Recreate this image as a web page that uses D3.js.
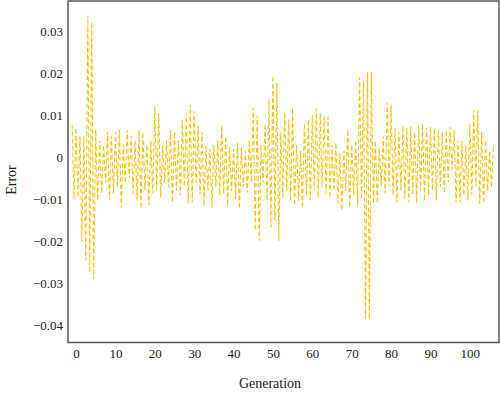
<!DOCTYPE html>
<html>
<head>
<meta charset="utf-8">
<script src="https://cdn.jsdelivr.net/npm/d3@7/dist/d3.min.js"></script>
<style>
  html, body { margin: 0; padding: 0; background: #fff; }
  svg { display: block; }
  text { font-family: "Liberation Serif", "DejaVu Serif", serif; fill: #222; }
</style>
</head>
<body>
<svg id="chart" width="500" height="394"></svg>
<script>
// Generation sampled every half step starting at -1
const genStart = -1;
const genStep = 0.5;
// Error values
const errorValues = [
  0.0077, -0.0100, 0.0070, -0.0096, 0.0050, -0.0200, 0.0050, -0.0246, 0.0338, -0.0275,
  0.0322, -0.0290, 0.0065, -0.0103, 0.0040, -0.0086, 0.0030, -0.0060, 0.0060, -0.0103,
  0.0050, -0.0086, 0.0060, -0.0070, 0.0065, -0.0120, 0.0030, -0.0062, 0.0065, -0.0050,
  0.0050, -0.0086, 0.0040, -0.0103, 0.0065, -0.0122, 0.0060, -0.0080, 0.0030, -0.0114,
  0.0040, -0.0086, 0.0120, -0.0079, 0.0105, -0.0096, 0.0030, -0.0060, 0.0040, -0.0072,
  0.0065, -0.0108, 0.0060, -0.0080, 0.0040, -0.0091, 0.0090, -0.0070, 0.0105, -0.0110,
  0.0125, -0.0108, 0.0110, -0.0060, 0.0075, -0.0090, 0.0060, -0.0115, 0.0030, -0.0080,
  0.0020, -0.0120, 0.0030, -0.0070, 0.0040, -0.0090, 0.0076, -0.0086, 0.0050, -0.0115,
  0.0024, -0.0080, 0.0020, -0.0100, 0.0034, -0.0122, 0.0024, -0.0070, 0.0015, -0.0084,
  0.0040, -0.0060, 0.0117, -0.0175, 0.0100, -0.0199, 0.0030, -0.0060, 0.0080, -0.0103,
  0.0136, -0.0167, 0.0194, -0.0150, 0.0177, -0.0199, 0.0060, -0.0096, 0.0108, -0.0080,
  0.0090, -0.0103, 0.0117, -0.0115, 0.0030, -0.0103, 0.0015, -0.0122, 0.0080, -0.0090,
  0.0090, -0.0103, 0.0100, -0.0080, 0.0117, -0.0096, 0.0105, -0.0070, 0.0096, -0.0086,
  0.0096, -0.0096, 0.0029, -0.0080, 0.0035, -0.0110, 0.0010, -0.0127, 0.0015, -0.0080,
  0.0065, -0.0120, 0.0030, -0.0090, 0.0040, -0.0115, 0.0190, -0.0100, 0.0180, -0.0385,
  0.0203, -0.0385, 0.0203, -0.0110, 0.0040, -0.0110, 0.0020, -0.0070, 0.0050, -0.0086,
  0.0130, -0.0070, 0.0125, -0.0090, 0.0070, -0.0108, 0.0060, -0.0080, 0.0075, -0.0100,
  0.0070, -0.0108, 0.0072, -0.0090, 0.0060, -0.0110, 0.0075, -0.0080, 0.0080, -0.0103,
  0.0070, -0.0090, 0.0072, -0.0080, 0.0070, -0.0103, 0.0065, -0.0070, 0.0060, -0.0086,
  0.0065, -0.0060, 0.0072, -0.0030, 0.0065, -0.0108, 0.0040, -0.0108, 0.0040, -0.0090,
  0.0030, -0.0103, 0.0080, -0.0090, 0.0112, -0.0070, 0.0112, -0.0110, 0.0060, -0.0110,
  0.0040, -0.0080, 0.0015, -0.0072, 0.0025
];
const xTicks = [0, 10, 20, 30, 40, 50, 60, 70, 80, 90, 100];
const yTicks = [-0.04, -0.03, -0.02, -0.01, 0, 0.01, 0.02, 0.03];

const data = errorValues.map((v, i) => ({ g: genStart + i * genStep, e: v }));

const svg = d3.select("#chart");
const mLeft = 68, mRight = 499, mTop = 1, mBottom = 342.5;

const x = d3.scaleLinear().domain([-2.03, 107.4]).range([mLeft, mRight]);
const y = d3.scaleLinear().domain([-0.04415, 0.03726]).range([mBottom, mTop]);

// line
const line = d3.line().x(d => x(d.g)).y(d => y(d.e));
svg.append("path")
  .datum(data)
  .attr("fill", "none")
  .attr("stroke", "#FFC000")
  .attr("stroke-width", 1.05)
  .attr("stroke-dasharray", "4.5,2.5")
  .attr("d", line);

// axes (labels only, no tick marks)
const fmtY = v => v === 0 ? "0" : d3.format(".2f")(v);
const xAxis = d3.axisBottom(x).tickValues(xTicks).tickSize(0).tickPadding(6);
const gx = svg.append("g").attr("transform", `translate(0,${mBottom})`).call(xAxis);
gx.select(".domain").remove();
gx.selectAll("text").attr("font-size", 13).attr("font-family", "Liberation Serif").attr("fill", "#222");

const yAxis = d3.axisLeft(y).tickValues(yTicks).tickFormat(fmtY).tickSize(0).tickPadding(5);
const gy = svg.append("g").attr("transform", `translate(${mLeft},0)`).call(yAxis);
gy.select(".domain").remove();
gy.selectAll("text").attr("font-size", 13).attr("font-family", "Liberation Serif").attr("fill", "#222");

// frame
svg.append("rect")
  .attr("x", mLeft).attr("y", mTop)
  .attr("width", mRight - mLeft).attr("height", mBottom - mTop)
  .attr("fill", "none").attr("stroke", "#555").attr("stroke-width", 1.5);

// axis titles
svg.append("text")
  .attr("x", 270).attr("y", 388)
  .attr("text-anchor", "middle")
  .attr("font-size", 14)
  .text("Generation");

svg.append("text")
  .attr("transform", "translate(16,180) rotate(-90)")
  .attr("text-anchor", "middle")
  .attr("font-size", 14)
  .text("Error");
</script>
</body>
</html>
